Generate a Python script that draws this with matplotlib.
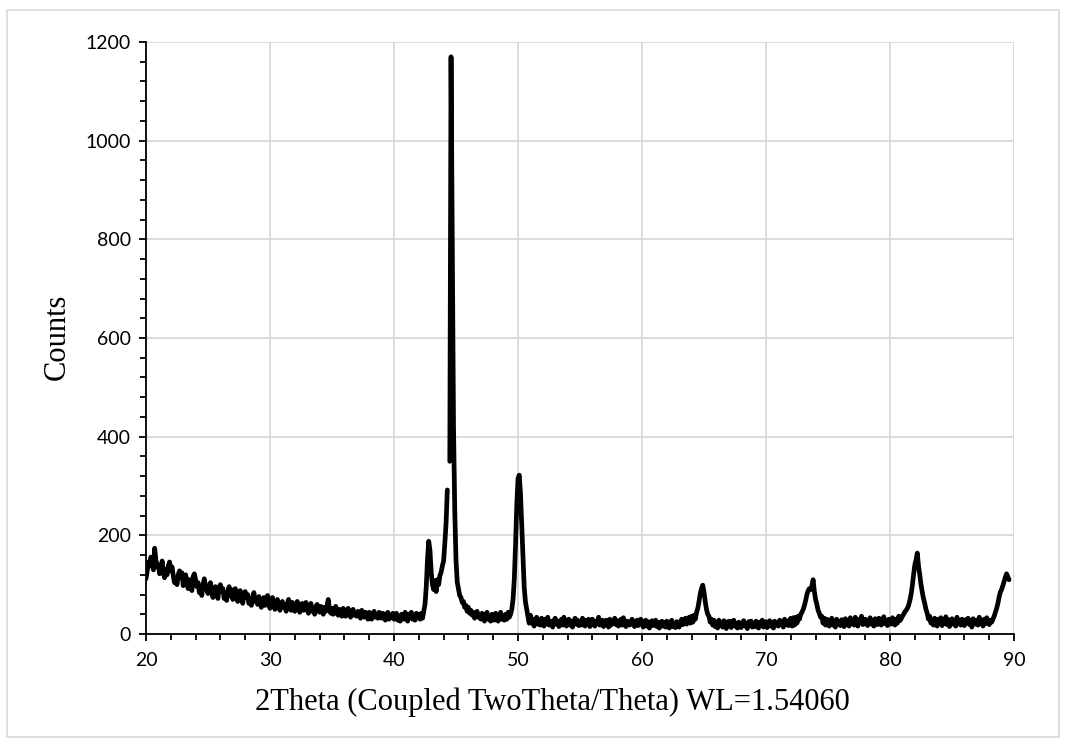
import numpy as np
import matplotlib
matplotlib.use("Agg")
import matplotlib.pyplot as plt
from matplotlib.ticker import MultipleLocator
from matplotlib.patches import Rectangle

# ---- data: XRD scan, 2theta from 20.0 to 89.6 deg in 0.1 deg steps ----
theta_start = 20.0
theta_step = 0.1

# counts, one row per degree (x.0 ... x.9)
counts = [
    112, 128, 146, 138, 156, 142, 130, 174, 150, 136,   # 20
    140, 122, 132, 148, 126, 114, 130, 120, 138, 146,   # 21
    128, 136, 118, 104, 112, 100, 120, 128, 114, 124,   # 22
    98, 112, 120, 104, 92, 110, 100, 88, 116, 122,      # 23
    110, 96, 104, 84, 92, 78, 100, 112, 96, 90,         # 24
    82, 98, 104, 86, 74, 88, 96, 80, 72, 94,            # 25
    100, 86, 92, 72, 80, 68, 86, 96, 78, 90,            # 26
    70, 84, 92, 74, 66, 80, 88, 72, 62, 78,             # 27
    86, 74, 80, 62, 70, 58, 74, 84, 66, 72,             # 28
    60, 76, 70, 54, 64, 74, 58, 68, 78, 62,             # 29
    52, 68, 74, 58, 50, 64, 70, 56, 48, 62,             # 30
    66, 54, 60, 46, 62, 70, 56, 48, 64, 52,             # 31
    46, 60, 66, 52, 44, 58, 62, 48, 56, 64,             # 32
    50, 42, 58, 62, 46, 54, 40, 56, 60, 48,             # 33
    44, 56, 50, 40, 54, 46, 58, 70, 48, 42,             # 34
    52, 40, 48, 56, 42, 38, 50, 44, 36, 52,             # 35
    48, 36, 44, 52, 40, 34, 46, 50, 38, 42,             # 36
    36, 46, 40, 32, 48, 42, 34, 44, 38, 30,             # 37
    44, 36, 30, 42, 46, 34, 40, 32, 44, 38,             # 38
    32, 42, 36, 28, 40, 44, 30, 38, 34, 42,             # 39
    30, 38, 42, 28, 34, 26, 40, 36, 30, 44,             # 40
    32, 26, 40, 34, 44, 30, 36, 28, 42, 38,             # 41
    40, 30, 42, 32, 46, 60, 95, 150, 188, 170,          # 42
    125, 100, 90, 108, 86, 110, 100, 118, 125, 138,     # 43
    148, 184, 225, 292, np.nan, 350, 1170, 780, 420, 250,  # 44
    150, 105, 92, 78, 74, 64, 66, 54, 58, 46,           # 45
    54, 42, 48, 38, 44, 32, 40, 46, 34, 38,             # 46
    30, 42, 36, 26, 38, 44, 30, 34, 26, 40,             # 47
    36, 28, 42, 32, 26, 38, 44, 30, 36, 28,             # 48
    40, 30, 44, 34, 40, 50, 70, 110, 180, 260,          # 49
    315, 322, 285, 220, 150, 95, 65, 50, 36, 22,        # 50
    38, 22, 30, 16, 26, 34, 20, 28, 18, 32,             # 51
    24, 16, 30, 22, 34, 18, 26, 20, 14, 28,             # 52
    32, 20, 26, 15, 22, 30, 18, 34, 24, 16,             # 53
    22, 30, 18, 26, 14, 24, 32, 20, 28, 17,             # 54
    26, 18, 32, 22, 16, 28, 20, 30, 15, 24,             # 55
    30, 20, 16, 26, 22, 34, 18, 24, 28, 15,             # 56
    20, 28, 24, 14, 30, 18, 26, 22, 32, 19,             # 57
    27, 16, 22, 30, 18, 33, 24, 15, 26, 21,             # 58
    18, 26, 30, 20, 15, 24, 28, 17, 22, 30,             # 59
    24, 14, 20, 28, 16, 25, 12, 22, 27, 17,             # 60
    21, 28, 15, 24, 12, 20, 26, 16, 23, 14,             # 61
    26, 18, 12, 23, 28, 15, 21, 13, 25, 19,             # 62
    14, 24, 30, 19, 26, 32, 20, 28, 34, 22,             # 63
    36, 24, 38, 30, 44, 52, 66, 82, 92, 99,             # 64
    85, 66, 50, 40, 36, 24, 30, 18, 28, 15,             # 65
    24, 12, 28, 18, 22, 14, 27, 20, 11, 25,             # 66
    18, 26, 13, 22, 28, 16, 21, 12, 24, 19,             # 67
    13, 23, 27, 16, 20, 11, 25, 18, 26, 14,             # 68
    22, 15, 26, 19, 12, 24, 17, 28, 14, 21,             # 69
    25, 13, 19, 27, 16, 23, 12, 26, 18, 22,             # 70
    16, 28, 20, 25, 14, 30, 19, 24, 17, 29,             # 71
    32, 16, 33, 18, 34, 22, 36, 30, 40, 44,             # 72
    50, 58, 68, 80, 88, 92, 90, 97, 110, 86,            # 73
    70, 60, 48, 42, 34, 36, 22, 32, 18, 30,             # 74
    28, 16, 24, 32, 18, 26, 14, 30, 21, 25,             # 75
    17, 29, 22, 15, 31, 20, 26, 16, 33, 23,             # 76
    27, 18, 34, 22, 16, 29, 24, 36, 19, 25,             # 77
    30, 21, 17, 28, 33, 20, 25, 16, 31, 24,             # 78
    19, 32, 26, 18, 29, 35, 21, 27, 17, 30,             # 79
    26, 20, 33, 24, 18, 30, 22, 36, 27, 31,             # 80
    36, 40, 45, 48, 52, 58, 68, 80, 98, 120,            # 81
    140, 150, 164, 138, 120, 100, 85, 72, 62, 50,       # 82
    42, 30, 36, 22, 28, 18, 32, 24, 16, 30,             # 83
    24, 33, 17, 27, 21, 35, 19, 29, 15, 26,             # 84
    31, 20, 25, 16, 34, 22, 28, 18, 30, 23,             # 85
    17, 29, 23, 32, 19, 26, 14, 31, 24, 20,             # 86
    28, 18, 34, 22, 27, 16, 30, 21, 33, 25,             # 87
    19, 28, 24, 30, 36, 44, 52, 62, 75, 85,             # 88
    90, 98, 106, 115, 122, 116, 110,                    # 89
]
two_theta = theta_start + theta_step * np.arange(len(counts))

x_label = "2Theta (Coupled TwoTheta/Theta) WL=1.54060"
y_label = "Counts"

# ---- figure ----
W, H = 1066, 744
fig = plt.figure(figsize=(W / 100, H / 100), dpi=100)
fig.patch.set_facecolor("white")
fig.patches.append(Rectangle((7 / W, 1 - 737 / H), (1059 - 7) / W, (737 - 10) / H,
                             transform=fig.transFigure, fill=False,
                             edgecolor="#d9d9d9", linewidth=1.2))

ax = fig.add_axes([146 / W, 1 - 634 / H, (1014 - 146) / W, (634 - 42) / H])
ax.plot(two_theta, counts, color="black", linewidth=3.4,
        solid_joinstyle="round", solid_capstyle="round", zorder=3)

ax.set_xlim(20, 90)
ax.set_ylim(0, 1200)
ax.xaxis.set_major_locator(MultipleLocator(10))
ax.xaxis.set_minor_locator(MultipleLocator(2))
ax.yaxis.set_major_locator(MultipleLocator(200))
ax.yaxis.set_minor_locator(MultipleLocator(40))

ax.grid(True, which="major", color="#d9d9d9", linewidth=1.3, zorder=0)
ax.set_axisbelow(True)
for s in ("top", "right"):
    ax.spines[s].set_visible(False)
for s in ("left", "bottom"):
    ax.spines[s].set_color("black")
    ax.spines[s].set_linewidth(1.3)

ax.tick_params(which="major", direction="out", length=5, width=1.3, color="black",
               labelsize=14)
ax.tick_params(axis="x", which="major", pad=8)
ax.tick_params(axis="y", which="major", pad=6)
ax.tick_params(which="minor", direction="out", length=4, width=1.3, color="black")
for lab in ax.get_xticklabels() + ax.get_yticklabels():
    lab.set_fontfamily("Lato")

fig.text(552 / W, 1 - 702 / H, x_label, family="Liberation Serif", fontsize=22,
         ha="center", va="center")
fig.text(57 / W, 1 - 337 / H, y_label, family="Liberation Serif", fontsize=22,
         ha="center", va="center", rotation=90)

fig.savefig("out.png", dpi=100)
